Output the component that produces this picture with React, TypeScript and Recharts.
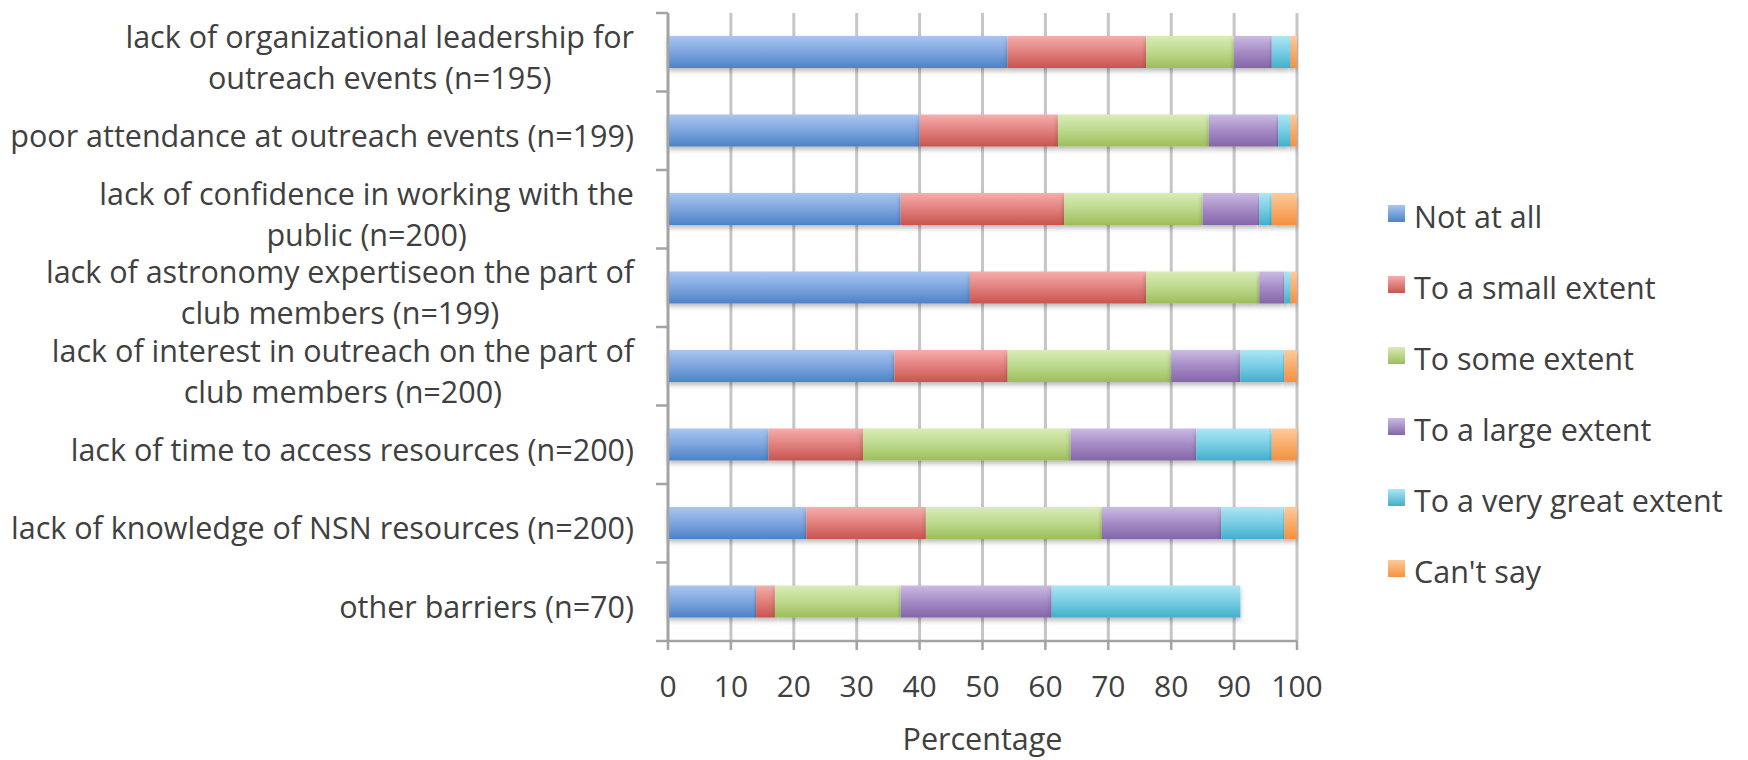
import React from 'react';
import { BarChart, Bar, XAxis, YAxis, CartesianGrid, Legend, Label } from 'recharts';

// ---------- data ----------
const categories = [
  'lack of organizational leadership for\noutreach events (n=195)',
  'poor attendance at outreach events (n=199)',
  'lack of confidence in working with the\npublic (n=200)',
  'lack of astronomy expertiseon the part of\nclub members (n=199)',
  'lack of interest in outreach on the part of\nclub members (n=200)',
  'lack of time to access resources (n=200)',
  'lack of knowledge of NSN resources (n=200)',
  'other barriers (n=70)',
];
const notAtAll = [54, 40, 37, 48, 36, 16, 22, 14];
const smallExtent = [22, 22, 26, 28, 18, 15, 19, 3];
const someExtent = [14, 24, 22, 18, 26, 33, 28, 20];
const largeExtent = [6, 11, 9, 4, 11, 20, 19, 24];
const veryGreatExtent = [3, 2, 2, 1, 7, 12, 10, 30];
const cantSay = [1, 1, 4, 1, 2, 4, 2, 0];

const seriesNames = [
  'Not at all',
  'To a small extent',
  'To some extent',
  'To a large extent',
  'To a very great extent',
  "Can't say",
];
const seriesKeys = ['notAtAll', 'small', 'some', 'large', 'veryGreat', 'cantSay'];
const xTicks = [0, 10, 20, 30, 40, 50, 60, 70, 80, 90, 100];
const xTitle = 'Percentage';

const data = categories.map((name, i) => ({
  name,
  notAtAll: notAtAll[i],
  small: smallExtent[i],
  some: someExtent[i],
  large: largeExtent[i],
  veryGreat: veryGreatExtent[i],
  cantSay: cantSay[i],
}));

// ---------- styles ----------
const FONT_NAME = 'Open Sans';
const FONT = '"Open Sans", sans-serif';
const TEXT = '#404040';
const LABEL_SIZE = 30.5;
const TICK_SIZE = 30;
const AXIS_COLOR = '#a3a3a3';
const GRID_COLOR = '#c6c6c6';

const gradients = [
  ['#a9c6f0', '#7ea5de', '#4c82c6'],
  ['#f5aeac', '#e0807d', '#c9544f'],
  ['#d9ecb7', '#bcd98c', '#9dbe5a'],
  ['#cbbbe3', '#a58bc6', '#8466a8'],
  ['#aee6f5', '#78cde3', '#43afcb'],
  ['#fdcb9c', '#f9ad6b', '#f5913e'],
];

let measureCtx: CanvasRenderingContext2D | null = null;
function measure(text: string, size: number): number {
  if (!measureCtx) measureCtx = document.createElement('canvas').getContext('2d');
  if (!measureCtx) return text.length * size * 0.5;
  measureCtx.font = `${size}px "${FONT_NAME}"`;
  return measureCtx.measureText(text).width;
}

const YTick = (props: any) => {
  const { x, y, payload, index } = props;
  const axisX = x + 12 + 22;
  const off = typeof payload.offset === 'number' && payload.offset > 0 ? payload.offset : 39.2;
  const lines = String(payload.value).split('\n');
  const isLast = index === categories.length - 1;
  const textProps = { fill: TEXT, fontFamily: FONT, fontSize: LABEL_SIZE };
  let texts;
  if (lines.length === 1) {
    texts = (
      <text x={x} y={y + 16} textAnchor="end" {...textProps}>
        {lines[0]}
      </text>
    );
  } else {
    const w = Math.max(...lines.map((l) => measure(l, LABEL_SIZE)));
    const cx = x - w / 2;
    texts = lines.map((l, i) => (
      <text key={i} x={cx} y={y - 4.5 + i * 41} textAnchor="middle" {...textProps}>
        {l}
      </text>
    ));
  }
  return (
    <g>
      <line x1={axisX - 12} x2={axisX} y1={y - off} y2={y - off} stroke={AXIS_COLOR} strokeWidth={2.5} />
      {isLast && (
        <line x1={axisX - 12} x2={axisX} y1={y + off} y2={y + off} stroke={AXIS_COLOR} strokeWidth={2.5} />
      )}
      {texts}
    </g>
  );
};

const BarShape = (props: any) => {
  const { x, y, width, height, fill } = props;
  if (!width || width <= 0) return null;
  return <rect x={x} y={y} width={width} height={height} fill={fill} filter="url(#barShadow)" />;
};

const renderLegend = () => (
  <div style={{ fontFamily: FONT, fontSize: LABEL_SIZE, color: TEXT }}>
    {seriesNames.map((n, i) => (
      <div key={n} style={{ height: 71, display: 'flex', alignItems: 'center', whiteSpace: 'nowrap' }}>
        <span
          style={{
            display: 'inline-block',
            width: 17,
            height: 17,
            marginRight: 9,
            marginTop: -4,
            background: `linear-gradient(${gradients[i][0]}, ${gradients[i][2]})`,
          }}
        />
        <span>{n}</span>
      </div>
    ))}
  </div>
);

export default function App() {
  return (
    <div style={{ position: 'absolute', left: 0, top: 0, width: 1748, height: 760, background: '#ffffff' }}>
      <BarChart
        width={1748}
        height={760}
        data={data}
        layout="vertical"
        margin={{ top: 13, right: 451, bottom: 0, left: 0 }}
        barSize={32}
      >
        <defs>
          {gradients.map((g, i) => (
            <linearGradient key={i} id={`grad${i}`} x1="0" y1="0" x2="0" y2="1">
              <stop offset="0%" stopColor={g[0]} />
              <stop offset="50%" stopColor={g[1]} />
              <stop offset="100%" stopColor={g[2]} />
            </linearGradient>
          ))}
          <filter id="barShadow" x="-10%" y="-30%" width="120%" height="180%">
            <feDropShadow dx="0" dy="3" stdDeviation="2.5" floodColor="#000000" floodOpacity="0.28" />
          </filter>
        </defs>
        <CartesianGrid horizontal={false} stroke={GRID_COLOR} strokeWidth={3} />
        <XAxis
          type="number"
          domain={[0, 100]}
          ticks={xTicks}
          interval={0}
          height={119}
          tickSize={9}
          tickMargin={26}
          axisLine={{ stroke: AXIS_COLOR, strokeWidth: 2.5 }}
          tickLine={{ stroke: AXIS_COLOR, strokeWidth: 2.5 }}
          tick={{ fill: TEXT, fontFamily: FONT, fontSize: TICK_SIZE }}
        >
          <Label
            value={xTitle}
            position="insideBottom"
            offset={10}
            fill={TEXT}
            fontFamily={FONT}
            fontSize={LABEL_SIZE}
          />
        </XAxis>
        <YAxis
          type="category"
          dataKey="name"
          width={668}
          interval={0}
          tickSize={12}
          tickMargin={22}
          tickLine={false}
          axisLine={{ stroke: AXIS_COLOR, strokeWidth: 2.5 }}
          tick={<YTick />}
        />
        <Legend
          layout="vertical"
          align="center"
          verticalAlign="middle"
          wrapperStyle={{ left: 1388, top: 180, width: 360, height: 426 }}
          content={renderLegend}
        />
        {seriesKeys.map((k, i) => (
          <Bar
            key={k}
            dataKey={k}
            name={seriesNames[i]}
            stackId="s"
            fill={`url(#grad${i})`}
            shape={<BarShape />}
            isAnimationActive={false}
          />
        ))}
      </BarChart>
    </div>
  );
}
